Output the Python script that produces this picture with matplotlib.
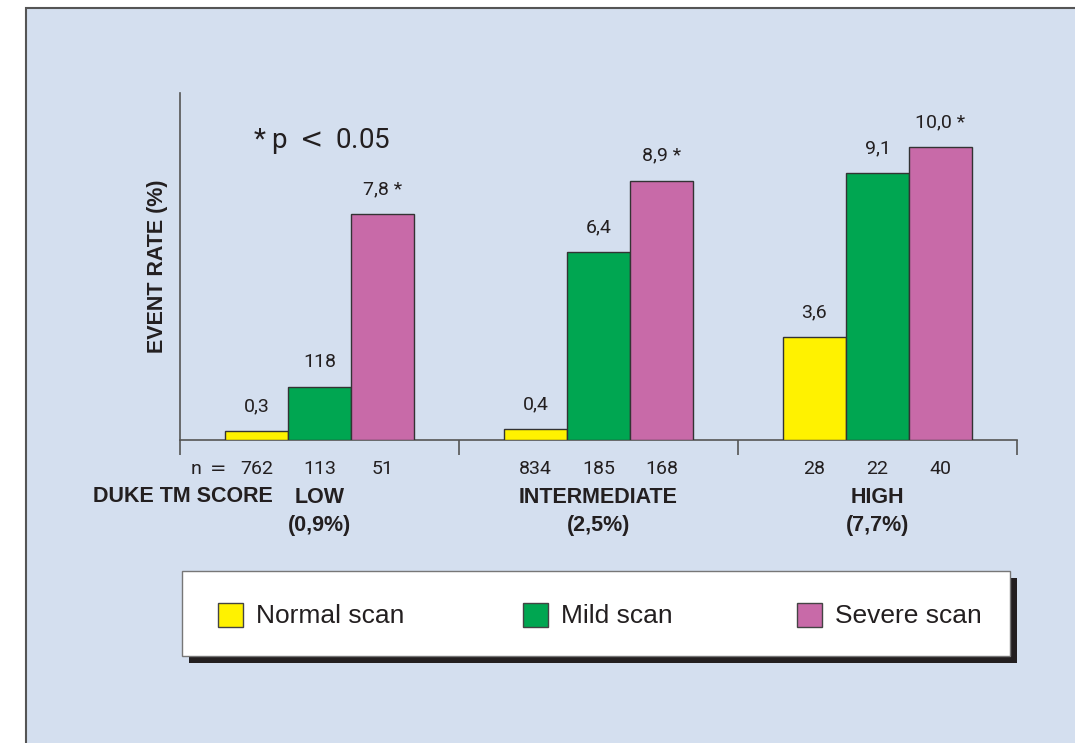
import matplotlib.pyplot as plt
from matplotlib.patches import Rectangle

groups = ["LOW", "INTERMEDIATE", "HIGH"]
group_rates = ["(0,9%)", "(2,5%)", "(7,7%)"]
series = ["Normal scan", "Mild scan", "Severe scan"]
# bar heights as drawn in the picture
normal = [0.3, 0.37, 3.5]
mild = [1.8, 6.4, 9.1]
severe = [7.7, 8.85, 10.0]
# printed labels
normal_lbl = ["0,3", "0,4", "3,6"]
mild_lbl = ["118", "6,4", "9,1"]
severe_lbl = ["7,8 *", "8,9 *", "10,0 *"]
n_normal = [762, 834, 28]
n_mild = [113, 185, 22]
n_severe = [51, 168, 40]

colors = ["#fff200", "#00a651", "#c86aa8"]
bg = "#d4dfef"
ink = "#231f20"
W, H = 1075, 743

fig = plt.figure(figsize=(W / 100, H / 100), dpi=100, facecolor="white")


def fx(x):
    return x / W


def fy(y):
    return 1 - y / H


# blue panel with frame
fig.patches.append(Rectangle((fx(26), fy(760)), fx(1100), (760 - 8) / H,
                             transform=fig.transFigure, facecolor=bg,
                             edgecolor="#555555", lw=1.5, zorder=-10))

ax = fig.add_axes([fx(180), fy(440), fx(1017) - fx(180), (440 - 93) / H])
ax.set_facecolor("none")
ax.set_xlim(0, 3)
ax.set_ylim(0, 11.84)
for s in ["top", "right"]:
    ax.spines[s].set_visible(False)
for s in ["left", "bottom"]:
    ax.spines[s].set_color("#555555")
    ax.spines[s].set_linewidth(1.2)
ax.set_yticks([])
ax.set_xticks([0, 1, 2, 3])
ax.set_xticklabels([])
ax.tick_params(axis="x", direction="out", length=11, width=1.2, color="#555555")

w = 0.226
data = [normal, mild, severe]
labels = [normal_lbl, mild_lbl, severe_lbl]
ns = [n_normal, n_mild, n_severe]
for k in range(3):
    xs = [i + 0.5 + (k - 1) * w for i in range(3)]
    ax.bar(xs, data[k], width=w, color=colors[k], edgecolor="#333333", lw=1.0, zorder=3)
    for x, v, t, n in zip(xs, data[k], labels[k], ns[k]):
        ax.annotate(t, (x, v), xytext=(0, 16), textcoords="offset pixels",
                    ha="center", va="bottom", fontsize=14, family="Roboto", color=ink)
        ax.annotate(str(n), (x, 0), xytext=(0, -29), textcoords="offset pixels",
                    ha="center", va="center", fontsize=14, family="Roboto", color=ink)

for i in range(3):
    ax.annotate(groups[i], (i + 0.5, 0), xytext=(0, -57), textcoords="offset pixels",
                ha="center", va="center", fontsize=15.5, family="Liberation Sans",
                fontweight="bold", color=ink)
    ax.annotate(group_rates[i], (i + 0.5, 0), xytext=(0, -85), textcoords="offset pixels",
                ha="center", va="center", fontsize=15.5, family="Liberation Sans",
                fontweight="bold", color=ink)

fig.text(fx(190), fy(469), "n $=$", ha="left", va="center", fontsize=14,
         family="Roboto", color=ink)
fig.text(fx(273), fy(497), "DUKE TM SCORE", ha="right", va="center", fontsize=15.5,
         family="Liberation Sans", fontweight="bold", color=ink)
fig.text(fx(157), fy(266), "EVENT RATE (%)", rotation=90, ha="center", va="center",
         fontsize=15.5, family="Liberation Sans", fontweight="bold", color=ink)
fig.text(fx(253), fy(141), "* p $<$ 0.05", ha="left", va="center", fontsize=20,
         family="Roboto", color=ink)

# legend box with shadow
fig.patches.append(Rectangle((fx(189), fy(663)), fx(1017) - fx(189), (663 - 578) / H,
                             transform=fig.transFigure, facecolor=ink,
                             edgecolor="none", zorder=1))
fig.patches.append(Rectangle((fx(182), fy(656)), fx(1010) - fx(182), (656 - 571) / H,
                             transform=fig.transFigure, facecolor="white",
                             edgecolor="#777777", lw=1, zorder=2))
patch_x = [218, 523, 797]
for k in range(3):
    fig.patches.append(Rectangle((fx(patch_x[k]), fy(627)), 25 / W, 24 / H,
                                 transform=fig.transFigure, facecolor=colors[k],
                                 edgecolor="#444444", lw=1, zorder=3))
    fig.text(fx(patch_x[k] + 38), fy(616), series[k], ha="left", va="center",
             fontsize=19, family="Liberation Sans", color=ink, zorder=4)

fig.savefig("out.png", dpi=100, facecolor="white")
